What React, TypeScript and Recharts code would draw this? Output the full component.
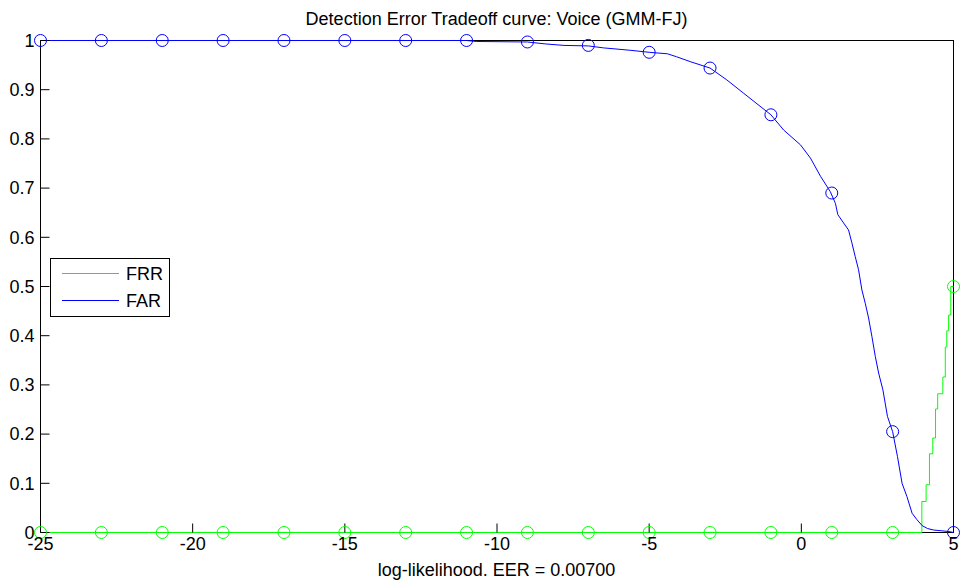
import { LineChart, Line, XAxis, YAxis } from 'recharts';

// FAR curve (false acceptance rate)
const farX = [-25, -11, -10.68, -9, -8.4, -7.8, -7, -6.5, -5.6, -5, -4.4, -4.1, -3.65, -3, -2.45, -1.9, -1, -0.58, -0.03, 0.3, 0.63, 0.95, 1.12, 1.2, 1.39, 1.55, 1.66, 1.77, 1.88, 1.99, 2.1, 2.21, 2.32, 2.43, 2.54, 2.68, 2.83, 3, 3.16, 3.31, 3.47, 3.64, 3.8, 3.97, 4.15, 4.35, 4.85, 5];
const farY = [1, 1, 0.998, 0.997, 0.993, 0.99, 0.989, 0.985, 0.98, 0.976, 0.973, 0.967, 0.957, 0.944, 0.92, 0.893, 0.849, 0.818, 0.788, 0.761, 0.724, 0.693, 0.669, 0.646, 0.629, 0.615, 0.589, 0.561, 0.534, 0.493, 0.466, 0.436, 0.398, 0.358, 0.324, 0.29, 0.236, 0.205, 0.154, 0.1, 0.073, 0.039, 0.026, 0.014, 0.008, 0.005, 0.002, 0];

// FRR curve (false rejection rate), a staircase
const frrX = [-25, 3.96, 4.1, 4.21, 4.32, 4.41, 4.48, 4.65, 4.73, 4.78, 4.84, 4.91, 5];
const frrY = [0, 0.063, 0.097, 0.16, 0.192, 0.251, 0.282, 0.316, 0.377, 0.41, 0.442, 0.5, 0.5];

// circle markers every 2 units
const markerX = [-25, -23, -21, -19, -17, -15, -13, -11, -9, -7, -5, -3, -1, 1, 3, 5];
const farMarkers = [1, 1, 1, 1, 1, 1, 1, 1, 0.997, 0.99, 0.976, 0.944, 0.849, 0.69, 0.205, 0];
const frrMarkers = [0, 0, 0, 0, 0, 0, 0, 0, 0, 0, 0, 0, 0, 0, 0, 0.5];

const xTicks = [-25, -20, -15, -10, -5, 0, 5];
const yTicks = [0, 0.1, 0.2, 0.3, 0.4, 0.5, 0.6, 0.7, 0.8, 0.9, 1];

const seriesNames = ['FRR', 'FAR'];
const seriesColors = ['#00ff00', '#0000ff'];

const title = 'Detection Error Tradeoff curve: Voice (GMM-FJ)';
const xLabel = 'log-likelihood. EER = 0.00700';

const FONT = '"Liberation Sans", Arial, sans-serif';

const farData = farX.map((x, i) => ({ x, y: farY[i] }));
const frrData = frrX.map((x, i) => ({ x, y: frrY[i] }));
const farMarkerData = markerX.map((x, i) => ({ x, y: farMarkers[i] }));
const frrMarkerData = markerX.map((x, i) => ({ x, y: frrMarkers[i] }));

const fmtY = (v: number) => String(Math.round(v * 10) / 10);

export default function App() {
    return (
        <div style={{ position: 'absolute', left: 0, top: 0, width: 960, height: 583, background: '#fff', fontFamily: FONT, overflow: 'hidden' }}>
            {/* axes box sits under the svg so the curves cover its edges, like matlab */}
            <div style={{ position: 'absolute', left: 40, top: 40, width: 914, height: 493, boxSizing: 'border-box', border: '1px solid #000' }} />

            {/* half-pixel shift keeps the 1px lines crisp */}
            <div style={{ position: 'absolute', left: 0, top: 0, transform: 'translate(0.5px, 0.5px)' }}>
                <LineChart width={960} height={583} margin={{ top: 0, right: 0, bottom: 0, left: 0 }} style={{ fontFamily: FONT }}>
                    <XAxis
                        dataKey="x"
                        type="number"
                        domain={[-25, 5]}
                        ticks={xTicks}
                        height={51}
                        stroke="#000"
                        axisLine={false}
                        tickLine={{ stroke: '#000' }}
                        tickSize={-9}
                        tickMargin={14}
                        tick={{ fontSize: 18, fill: '#000' }}
                    />
                    <XAxis
                        xAxisId="top"
                        orientation="top"
                        dataKey="x"
                        type="number"
                        domain={[-25, 5]}
                        ticks={xTicks}
                        height={40}
                        stroke="#000"
                        axisLine={false}
                        tickLine={{ stroke: '#000' }}
                        tickSize={-9}
                        tick={{ fill: 'none' }}
                    />
                    <YAxis
                        type="number"
                        domain={[0, 1]}
                        ticks={yTicks}
                        width={40}
                        stroke="#000"
                        axisLine={false}
                        tickLine={{ stroke: '#000' }}
                        tickSize={-9}
                        tickMargin={15}
                        tickFormatter={fmtY}
                        tick={{ fontSize: 18, fill: '#000' }}
                    />
                    <YAxis
                        yAxisId="right"
                        orientation="right"
                        type="number"
                        domain={[0, 1]}
                        ticks={yTicks}
                        width={7}
                        stroke="#000"
                        axisLine={false}
                        tickLine={{ stroke: '#000' }}
                        tickSize={-9}
                        tick={{ fill: 'none' }}
                    />
                    <Line data={frrData} dataKey="y" type="stepAfter" stroke={seriesColors[0]} strokeWidth={1} dot={false} isAnimationActive={false} />
                    <Line data={frrMarkerData} dataKey="y" stroke="none" dot={{ r: 6, fill: 'none', stroke: seriesColors[0], strokeWidth: 1 }} isAnimationActive={false} />
                    <Line data={farData} dataKey="y" type="linear" stroke={seriesColors[1]} strokeWidth={1} dot={false} isAnimationActive={false} />
                    <Line data={farMarkerData} dataKey="y" stroke="none" dot={{ r: 6, fill: 'none', stroke: seriesColors[1], strokeWidth: 1 }} isAnimationActive={false} />
                </LineChart>
            </div>

            <div style={{ position: 'absolute', left: 40, width: 913, top: 10, textAlign: 'center', fontSize: 18, lineHeight: '18px', color: '#000', whiteSpace: 'nowrap' }}>
                {title}
            </div>
            <div style={{ position: 'absolute', left: 40, width: 913, top: 561, textAlign: 'center', fontSize: 18, lineHeight: '18px', color: '#000', whiteSpace: 'nowrap' }}>
                {xLabel}
            </div>

            {/* legend box */}
            <div style={{ position: 'absolute', left: 50, top: 258, width: 118, height: 57, border: '1px solid #000', background: '#fff' }}>
                {seriesNames.map((name, i) => (
                    <div key={name} style={{ position: 'absolute', left: 0, top: 6 + i * 27, height: 18, width: 118 }}>
                        <div style={{ position: 'absolute', left: 11, top: 8, width: 57, height: 1, background: seriesColors[i] }} />
                        <div style={{ position: 'absolute', left: 75, top: 0, fontSize: 18, lineHeight: '18px', color: '#000' }}>{name}</div>
                    </div>
                ))}
            </div>
        </div>
    );
}
